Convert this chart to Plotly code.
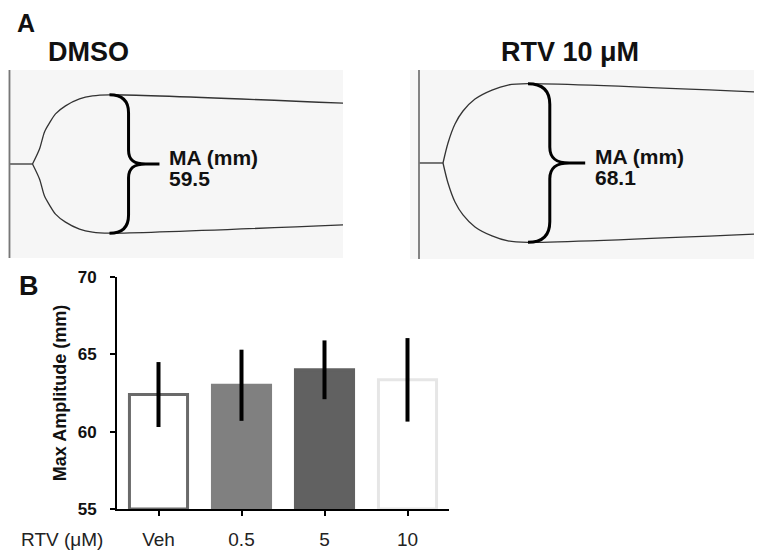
import plotly.graph_objects as go

# ---------------- Data ----------------
# Panel A: thromboelastography traces (time in min, full amplitude in mm)
dmso_time = [0.0, 2.3, 3.0, 3.5, 4.0, 4.6, 5.6, 7.0, 8.3, 10.0, 33.6]
dmso_amp = [0.0, 0.0, 12.9, 27.6, 35.3, 43.1, 50.0, 56.0, 58.6, 59.5, 52.2]
dmso_ma = 59.5
dmso_tmax = 10.0

rtv_time = [0.0, 2.4, 2.9, 3.6, 4.4, 5.6, 7.3, 8.9, 10.9, 33.8]
rtv_amp = [0.0, 0.0, 17.2, 33.5, 44.6, 54.9, 62.6, 66.9, 68.1, 60.9]
rtv_ma = 68.1
rtv_tmax = 10.9

panel_titles = ["DMSO", "RTV 10 μM"]

# Panel B: max amplitude bar chart
categories = ["Veh", "0.5", "5", "10"]
ma_means = [62.4, 63.0, 64.0, 63.35]
ma_err = [2.1, 2.3, 1.9, 2.7]
y_ticks = [55, 60, 65, 70]

# ---------------- Styles ----------------
# The page body has an 8px margin, so the figure is drawn 8px in from the
# window's top-left corner; layout positions below are given in window pixels.
OFF = 8
W, H = 762 - OFF, 551 - OFF
FONT = "Liberation Sans, Arial, sans-serif"
bar_fill = ["#ffffff", "#808080", "#616161", "#ffffff"]
bar_line = ["#6a6a6a", "#808080", "#616161", "#e6e6e6"]
TRACE = dict(color="#333333", width=1.3)

def dx(px0, px1):
    return [max(0, (px0 - OFF) / W), min(1, (px1 - OFF) / W)]

def dy(py_top, py_bot):
    return [max(0, 1 - (py_bot - OFF) / H), min(1, 1 - (py_top - OFF) / H)]

def px_x(p):
    return (p - OFF) / W

def px_y(p):
    return 1 - (p - OFF) / H

fig = go.Figure()

# ---- Panel A traces ----
for t, a, xa, ya in [(dmso_time, dmso_amp, "x", "y"), (rtv_time, rtv_amp, "x2", "y2")]:
    fig.add_trace(go.Scatter(x=t[:2], y=a[:2], mode="lines", line=TRACE,
                             xaxis=xa, yaxis=ya, showlegend=False, hoverinfo="skip"))
    for sign in (1, -1):
        fig.add_trace(go.Scatter(x=t[1:], y=[sign * v / 2 for v in a[1:]], mode="lines",
                                 line=dict(**TRACE, shape="spline", smoothing=0.8),
                                 xaxis=xa, yaxis=ya, showlegend=False, hoverinfo="skip"))

# ---- Panel B bars ----
fig.add_trace(go.Bar(x=categories, y=[m - 55 for m in ma_means], base=55,
                     width=0.7,
                     marker=dict(color=bar_fill, line=dict(color=bar_line, width=3)),
                     error_y=dict(type="data", array=ma_err, color="black", thickness=4, width=0),
                     xaxis="x3", yaxis="y3", showlegend=False, hoverinfo="skip"))

shapes = []
annotations = []

def brace_path(tm, ma):
    h = ma / 2
    v = tm + 0.064 * h
    ts = tm + 0.121 * h
    te = tm + 0.168 * h
    c1 = 0.74 * h
    c2 = 0.2 * h
    p = (f"M {tm},{h} C {tm + 0.045 * h},{h} {v},{h - 0.09 * h} {v},{c1} "
         f"L {v},{c2} C {v},{0.05 * h} {v + 0.02 * h},0 {ts},0 "
         f"C {v + 0.02 * h},0 {v},{-0.05 * h} {v},{-c2} "
         f"L {v},{-c1} C {v},{-h + 0.09 * h} {tm + 0.045 * h},{-h} {tm},{-h} "
         f"M {ts},0 L {te},0")
    return p, te

for xa, ya, tm, ma in [("x", "y", dmso_tmax, dmso_ma), ("x2", "y2", rtv_tmax, rtv_ma)]:
    shapes.append(dict(type="rect", xref=f"{xa} domain", yref=f"{ya} domain",
                       x0=0, x1=1, y0=0, y1=1, fillcolor="#f6f6f6",
                       line=dict(width=0), layer="below"))
    shapes.append(dict(type="line", xref=xa, yref=f"{ya} domain", x0=0, x1=0, y0=0, y1=1,
                       line=dict(color="#777777", width=1.8)))
    p, te = brace_path(tm, ma)
    shapes.append(dict(type="path", xref=xa, yref=ya, path=p,
                       line=dict(color="black", width=3)))
    annotations.append(dict(xref=xa, yref=ya, x=te + 0.9, y=-2.6, text="<b>MA (mm)</b>",
                            showarrow=False, xanchor="left", yanchor="bottom", borderpad=0,
                            font=dict(family=FONT, size=21, color="#111111")))
    annotations.append(dict(xref=xa, yref=ya, x=te + 0.9, y=-1.0, text=f"<b>{ma}</b>",
                            showarrow=False, xanchor="left", yanchor="top", borderpad=0,
                            font=dict(family=FONT, size=21, color="#111111")))

# Panel titles
annotations.append(dict(xref="paper", yref="paper", x=px_x(46), y=px_y(52), text=f"<b>{panel_titles[0]}</b>",
                        showarrow=False, xanchor="left", yanchor="middle",
                        font=dict(family=FONT, size=27, color="#111111")))
annotations.append(dict(xref="paper", yref="paper", x=px_x(570), y=px_y(52), text=f"<b>{panel_titles[1]}</b>",
                        showarrow=False, xanchor="center", yanchor="middle",
                        font=dict(family=FONT, size=27, color="#111111")))
# Panel letters
annotations.append(dict(xref="paper", yref="paper", x=px_x(16), y=1.0, text="<b>A</b>",
                        showarrow=False, xanchor="left", yanchor="top", borderpad=0,
                        font=dict(family=FONT, size=25, color="#111111")))
annotations.append(dict(xref="paper", yref="paper", x=px_x(17), y=px_y(286), text="<b>B</b>",
                        showarrow=False, xanchor="left", yanchor="middle",
                        font=dict(family=FONT, size=27, color="#111111")))
# RTV label
annotations.append(dict(xref="paper", yref="paper", x=px_x(19), y=px_y(539), text="RTV (μM)",
                        showarrow=False, xanchor="left", yanchor="middle",
                        font=dict(family=FONT, size=19, color="#222222")))

hidden = dict(visible=False, fixedrange=True, automargin=False)

fig.update_layout(
    width=W, height=H, autosize=False,
    margin=dict(l=0, r=0, t=0, b=0, pad=0),
    paper_bgcolor="white", plot_bgcolor="rgba(0,0,0,0)",
    font=dict(family=FONT),
    xaxis=dict(domain=dx(5, 343), range=[-0.15, 33.35], **hidden),
    yaxis=dict(domain=dy(70, 258), range=[-40.4, 40.4], **hidden),
    xaxis2=dict(domain=dx(410, 757), range=[-0.9, 33.8], anchor="y2", **hidden),
    yaxis2=dict(domain=dy(70, 259), range=[-41.2, 39.9], anchor="x2", **hidden),
    xaxis3=dict(domain=dx(117, 449), range=[-0.5, 3.5], anchor="y3", automargin=False,
                showline=True, linecolor="black", linewidth=2,
                ticks="outside", ticklen=5, tickwidth=2, tickcolor="black",
                showgrid=False, zeroline=False, fixedrange=True,
                tickfont=dict(family=FONT, size=19, color="#222222"),
                ticklabelstandoff=7),
    yaxis3=dict(domain=dy(277, 509), range=[55, 70], anchor="x3", automargin=False,
                tickvals=y_ticks, showline=True, linecolor="black", linewidth=2,
                ticks="outside", ticklen=5, tickwidth=2, tickcolor="black",
                showgrid=False, zeroline=False, fixedrange=True,
                tickfont=dict(family=FONT, size=17, color="#111111", weight="bold"),
                ticklabelstandoff=10,
                title=dict(text="<b>Max Amplitude (mm)</b>", standoff=6,
                           font=dict(family=FONT, size=18, color="#111111"))),
    shapes=shapes,
    annotations=annotations,
    bargap=0.3,
)

fig.write_html("out.html")
